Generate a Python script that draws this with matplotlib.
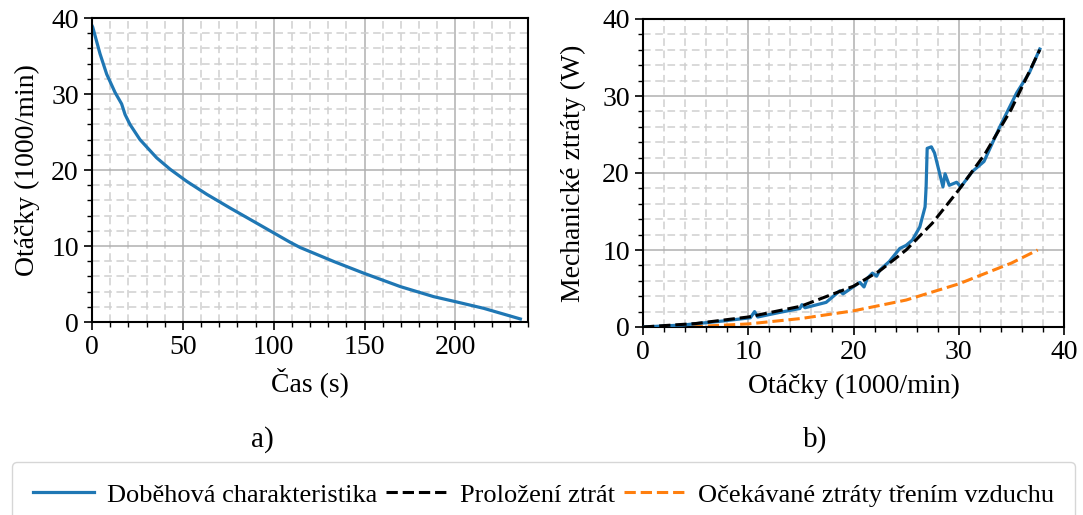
import numpy as np
import matplotlib
matplotlib.use('Agg')
import matplotlib.pyplot as plt
from matplotlib.ticker import MultipleLocator

plt.rcParams['font.family'] = ['Liberation Serif', 'DejaVu Serif']
plt.rcParams['font.size'] = 20

# doběh: čas (s) a otáčky (1000/min)
cas = [0, 0.4, 4.4, 8.1, 12.7, 16.3, 18.2, 20.9, 26.4, 35.6, 43, 52.2, 63.2,
       76, 90.7, 109, 114.6, 133, 149.5, 169.7, 188, 200, 215.6, 235.8]
otacky = [39.0, 38.8, 35.3, 32.6, 30.2, 28.7, 27.3, 26.0, 24.0, 21.6, 20.1,
          18.5, 16.8, 15.0, 13.0, 10.5, 9.8, 7.97, 6.43, 4.66, 3.34, 2.68,
          1.8, 0.4]

# mechanické ztráty z doběhu
n_mer = [0, 3.8, 7.6, 10.2, 10.6, 10.9, 13.0, 14.9, 15.1, 15.4, 17.4, 18.7,
         19.0, 20.6, 21.0, 21.3, 21.8, 22.2, 22.5, 23.4, 24.4, 25.0, 25.6,
         26.3, 26.8, 26.9, 27.0, 27.4, 27.7, 28.5, 28.7, 29.1, 29.8, 30.2,
         31.3, 32.4, 33.9, 35.5, 36.7, 37.7]
p_mer = [0, 0.26, 0.78, 1.2, 2.0, 1.3, 1.9, 2.4, 2.9, 2.5, 3.2, 4.7, 4.3,
         5.8, 5.2, 6.3, 7.0, 6.6, 7.4, 8.5, 10.2, 10.6, 11.3, 13.0, 15.6,
         18.2, 23.2, 23.4, 22.6, 18.2, 19.9, 18.4, 18.8, 18.2, 20.2, 21.5,
         26.0, 30.4, 33.0, 36.1]

# proložení ztrát
n_fit = [0, 5, 10, 15, 20, 22.5, 25, 27.5, 30, 32.5, 35, 37.7]
p_fit = [0, 0.45, 1.3, 2.7, 5.3, 7.3, 10.0, 13.5, 17.8, 22.5, 28.3, 36.0]

# očekávané ztráty třením vzduchu
n_vzd = [0, 5, 10, 15, 20, 25, 30, 35, 37.5]
p_vzd = [0, 0.06, 0.4, 1.1, 2.1, 3.5, 5.6, 8.3, 10.0]

modra = '#1f77b4'
oranzova = '#ff7f0e'

fig = plt.figure(figsize=(10.83, 5.15), dpi=100)
W, H = 1083, 515
ax1 = fig.add_axes([92 / W, 1 - 322 / H, (528 - 92) / W, (322 - 18) / H])
ax2 = fig.add_axes([643 / W, 1 - 327 / H, (1064 - 643) / W, (327 - 19) / H])


def styl(ax, xmaj, xmin, ymaj, ymin):
    ax.xaxis.set_major_locator(MultipleLocator(xmaj))
    ax.xaxis.set_minor_locator(MultipleLocator(xmin))
    ax.yaxis.set_major_locator(MultipleLocator(ymaj))
    ax.yaxis.set_minor_locator(MultipleLocator(ymin))
    ax.grid(which='major', color='#b0b0b0', lw=1.1)
    ax.grid(which='minor', color='#d0d0d0', lw=1.1, ls=(0, (5, 3)))
    ax.set_axisbelow(True)
    ax.tick_params(which='major', length=6, width=1.2, color='black')
    ax.tick_params(which='minor', length=3.5, width=1.0)
    for s in ax.spines.values():
        s.set_linewidth(1.5)


l1, = ax1.plot(cas, otacky, color=modra, lw=2.3)
ax1.set_xlim(0, 240)
ax1.set_ylim(0, 40)
styl(ax1, 50, 10, 10, 2)
ax1.set_xlabel('Čas (s)', labelpad=5)
ax1.set_ylabel('Otáčky (1000/min)', labelpad=8)

ax2.plot(n_mer, p_mer, color=modra, lw=2.3, zorder=3)
l2, = ax2.plot(n_fit, p_fit, color='black', lw=2.2, ls='--', zorder=4)
l3, = ax2.plot(n_vzd, p_vzd, color=oranzova, lw=2.2, ls='--')
ax2.set_xlim(0, 40)
ax2.set_ylim(0, 40)
styl(ax2, 10, 2, 10, 2)
ax2.set_xlabel('Otáčky (1000/min)', labelpad=6)
ax2.set_ylabel('Mechanické ztráty (W)', labelpad=12)

fig.text(262 / W, 1 - 440 / H, 'a)', ha='center', va='center', fontsize=21)
fig.text(815 / W, 1 - 440 / H, 'b)', ha='center', va='center', fontsize=21)

# legenda přes celou šířku pod oběma grafy
fig.legend([l1, l2, l3],
           ['Doběhová charakteristika', 'Proložení ztrát',
            'Očekávané ztráty třením vzduchu'],
           loc='upper left', mode='expand',
           bbox_to_anchor=(12 / W, 0, (1075 - 12) / W, 1 - 462 / H), ncol=3,
           fontsize=19, frameon=True, edgecolor='#cccccc', fancybox=True,
           handlelength=2.3, handletextpad=0.5, columnspacing=0.9,
           borderpad=0.8, borderaxespad=0)

fig.savefig('out.png', dpi=100)
